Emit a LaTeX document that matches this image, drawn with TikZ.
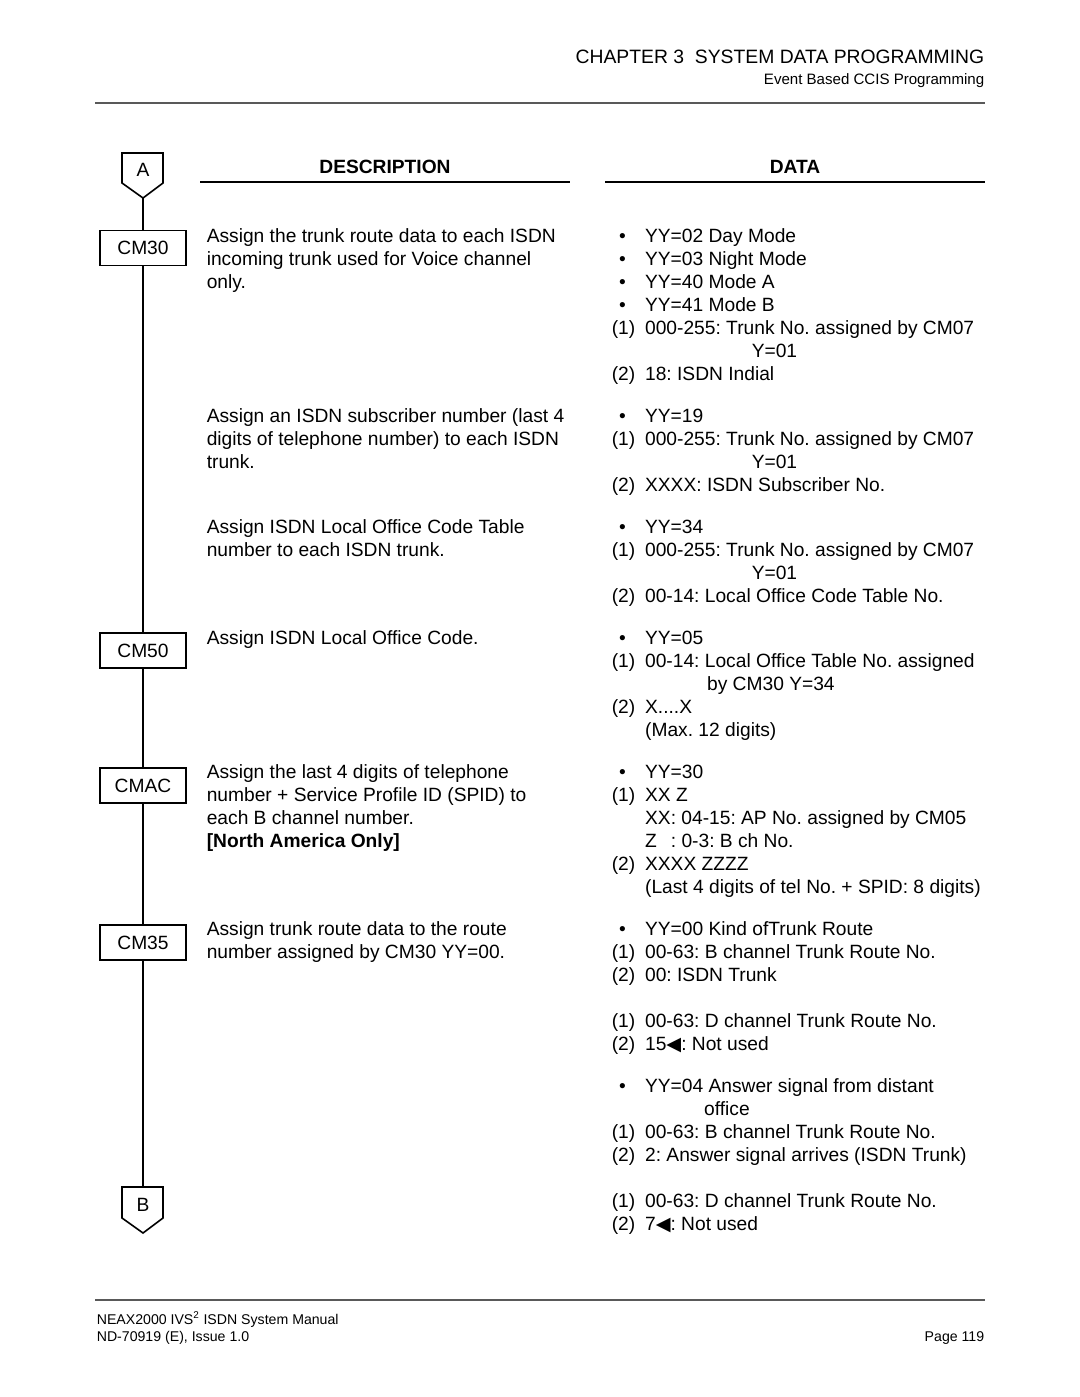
\documentclass[tikz,border=0pt]{standalone}
\usepackage{graphicx}
\usepackage{fontspec}
\setmainfont{Liberation Sans}
\newfontfamily\symfont{DejaVu Sans}
\frenchspacing

\newcommand{\bodyfont}{\fontsize{14.4pt}{17.25pt}\selectfont\frenchspacing}
\newcommand{\bul}{\makebox[25pt][l]{\hspace*{5.5pt}\textbullet}}
\newcommand{\itm}[1]{\makebox[25pt][l]{(#1)}}
\newcommand{\tri}{{\symfont\scalebox{1.0}{◀}}}

\tikzset{every picture/.style={line width=1.2pt}}
\tikzset{
  txt/.style={anchor=base west, inner sep=0pt, align=left, font=\bodyfont},
  cmbox/.style={draw, minimum width=64.5pt, minimum height=26.25pt, inner sep=0pt, font=\bodyfont},
  offpage/.style={inner sep=0pt, font=\bodyfont},
  rule/.style={color=black!65, line width=1.4pt}
}

\begin{document}
\begin{tikzpicture}[x=0.75pt,y=0.75pt,yscale=-1,xscale=1]
\path[use as bounding box] (0,0) rectangle (1080,1397);

% Header
\node [anchor=base east, inner sep=0pt, font=\fontsize{14.5pt}{17pt}\selectfont] (chap) at (985,63) {CHAPTER 3\ \ SYSTEM DATA PROGRAMMING};
\node [anchor=base east, inner sep=0pt, font=\fontsize{11.3pt}{13pt}\selectfont] (sect) at (985,84) {Event Based CCIS Programming};
\draw [rule] (95,103) -- (985,103);

% Column headings
\node [anchor=base, inner sep=0pt, font=\bodyfont\bfseries] (deschead) at (385,173) {DESCRIPTION};
\node [anchor=base, inner sep=0pt, font=\bodyfont\bfseries] (datahead) at (795,173) {DATA};
\draw (200,182) -- (570,182);
\draw (605,182) -- (985,182);

%Shape: Off-page connector A
\draw (122,153) -- (163,153) -- (163,183) -- (143,198) -- (122,183) -- cycle;
\node [offpage] (A) at (143,170) {A};
\coordinate (Atip) at (143,198);

% Command boxes
\node [cmbox] (cm30) at (143,248) {CM30};
\node [cmbox] (cm50) at (143,650.5) {CM50};
\node [cmbox] (cmac) at (143,785.5) {CMAC};
\node [cmbox] (cm35) at (143,942.5) {CM35};

%Shape: Off-page connector B
\draw (122,1187) -- (163,1187) -- (163,1218) -- (143,1233) -- (122,1218) -- cycle;
\node [offpage] (B) at (143,1205) {B};
\coordinate (Btop) at (143,1187);

% Flow line
\draw (Atip) -- (cm30) -- (cm50) -- (cmac) -- (cm35) -- (Btop);

% Description (placed at the baseline of the last line)
\node [txt] (desc30a) at (206,288) {Assign the trunk route data to each ISDN\\incoming trunk used for Voice channel\\only.};
\node [txt] (desc30b) at (206,468) {Assign an ISDN subscriber number (last 4\\digits of telephone number) to each ISDN\\trunk.};
\node [txt] (desc30c) at (206,556) {Assign ISDN Local Office Code Table\\number to each ISDN trunk.};
\node [txt] (desc50) at (206,644) {Assign ISDN Local Office Code.};
\node [txt] (descmac) at (206,847) {Assign the last 4 digits of telephone\\number + Service Profile ID (SPID) to\\each B channel number.\\\textbf{[North America Only]}};
\node [txt] (desc35) at (206,958) {Assign trunk route data to the route\\number assigned by CM30 YY=00.};

% Data (placed at the baseline of the last line)
\node [txt] (data30a) at (611,380) {\bul YY=02 Day Mode\\\bul YY=03 Night Mode\\\bul YY=40 Mode A\\\bul YY=41 Mode B\\\itm{1}000-255: Trunk No. assigned by CM07\\\hspace*{105pt}Y=01\\\itm{2}18: ISDN Indial};
\node [txt] (data30b) at (611,491) {\bul YY=19\\\itm{1}000-255: Trunk No. assigned by CM07\\\hspace*{105pt}Y=01\\\itm{2}XXXX: ISDN Subscriber No.};
\node [txt] (data30c) at (611,602) {\bul YY=34\\\itm{1}000-255: Trunk No. assigned by CM07\\\hspace*{105pt}Y=01\\\itm{2}00-14: Local Office Code Table No.};
\node [txt] (data50) at (611,736) {\bul YY=05\\\itm{1}00-14: Local Office Table No. assigned\\\hspace*{71.5pt}by CM30 Y=34\\\itm{2}X....X\\\hspace*{25pt}(Max. 12 digits)};
\node [txt] (datamac) at (611,893) {\bul YY=30\\\itm{1}XX Z\\\hspace*{25pt}XX: 04-15: AP No. assigned by CM05\\\hspace*{25pt}Z\hspace*{10.5pt}: 0-3: B ch No.\\\itm{2}XXXX ZZZZ\\\hspace*{25pt}(Last 4 digits of tel No. + SPID: 8 digits)};
\node [txt] (data35a) at (611,981) {\bul YY=00 Kind ofTrunk Route\\\itm{1}00-63: B channel Trunk Route No.\\\itm{2}00: ISDN Trunk};
\node [txt] (data35b) at (611,1050) {\itm{1}00-63: D channel Trunk Route No.\\\itm{2}15\tri: Not used};
\node [txt] (data35c) at (611,1161) {\bul YY=04 Answer signal from distant\\\hspace*{69.25pt}office\\\itm{1}00-63: B channel Trunk Route No.\\\itm{2}2: Answer signal arrives (ISDN Trunk)};
\node [txt] (data35d) at (611,1230) {\itm{1}00-63: D channel Trunk Route No.\\\itm{2}7\tri: Not used};

% Footer
\draw [rule] (95,1300) -- (985,1300);
\node [anchor=base west, inner sep=0pt, align=left, font=\fontsize{10.6pt}{12.75pt}\selectfont] (manual) at (96,1341) {NEAX2000 IVS\textsuperscript{2} ISDN System Manual\\ND-70919 (E), Issue 1.0};
\node [anchor=base east, inner sep=0pt, font=\fontsize{10.6pt}{12.75pt}\selectfont] (page) at (985,1341) {Page 119};

\end{tikzpicture}
\end{document}
